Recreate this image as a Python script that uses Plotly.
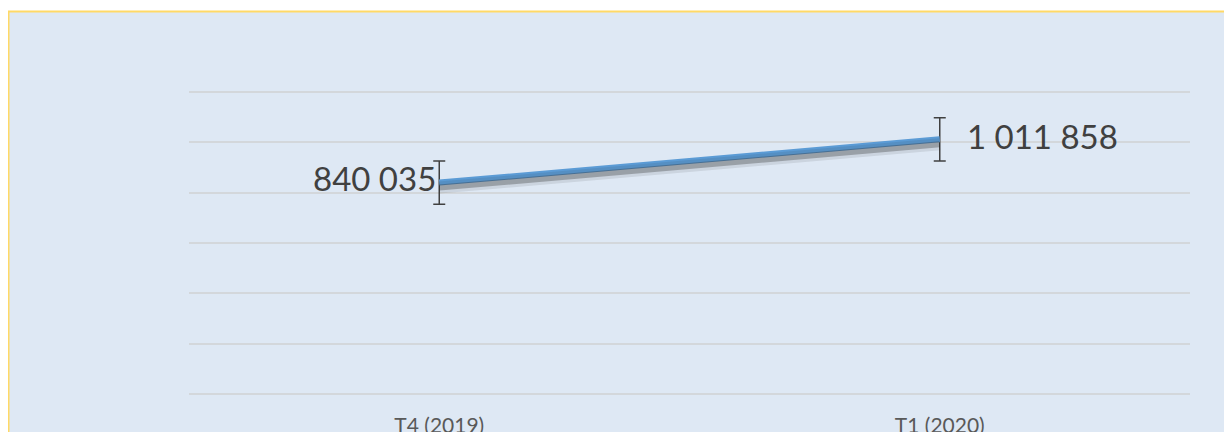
import plotly.graph_objects as go

categories = ["T4 (2019)", "T1 (2020)"]
values = [840035, 1011858]
err_values = [86000, 86000]
y_ticks = [0, 200000, 400000, 600000, 800000, 1000000, 1200000]

def fmt(v):
    return f"{v:,}".replace(",", " ")

labels = [fmt(v) for v in values]

OFF = 8   # default page body margin
PAD = 2   # extra px around plot so edge gridlines are kept
W, H = 1232 - OFF, 432 - OFF
L, R, T, B = 189 - OFF, 42, 92 - OFF - PAD, 38 - PAD
pw, ph = W - L - R, H - T - B

def px_x(vx):
    return (vx - OFF - L) / pw

def px_y(vy):
    return (H - B - (vy - OFF)) / ph

eps = PAD * 1200000 / (ph - 2 * PAD)
ymin, ymax = 0 - eps, 1200000 + eps

fig = go.Figure()

shift = 5 * (ymax - ymin) / ph
# soft shadow of the line (same data, drawn on a slightly shifted overlay axis)
fig.add_trace(go.Scatter(
    x=categories, y=values, mode="lines", yaxis="y2",
    line=dict(color="rgba(40,40,40,0.10)", width=12),
    hoverinfo="skip", showlegend=False,
))
fig.add_trace(go.Scatter(
    x=categories, y=values, mode="lines", yaxis="y2",
    line=dict(color="rgba(40,40,40,0.30)", width=6),
    hoverinfo="skip", showlegend=False,
))

fig.add_trace(go.Scatter(
    x=categories, y=values, mode="lines",
    line=dict(color="#5b9bd5", width=6),
    error_y=dict(type="data", array=err_values, visible=True,
                 color="#404040", thickness=1.5, width=6),
    showlegend=False,
))

fig.add_annotation(x=categories[0], y=values[0], text=labels[0], showarrow=False,
                   xanchor="right", yanchor="middle", xshift=-1, yshift=5,
                   font=dict(family="Lato", size=33, color="#404040"))
fig.add_annotation(x=categories[1], y=values[1], text=labels[1], showarrow=False,
                   xanchor="left", yanchor="middle", xshift=25, yshift=3,
                   font=dict(family="Lato", size=33, color="#404040"))

# chart-area frame
fig.add_shape(type="rect", xref="paper", yref="paper", layer="below",
              x0=px_x(8.5), x1=px_x(1260), y0=px_y(460), y1=px_y(11.5),
              line=dict(color="#ffd966", width=2), fillcolor="#dee8f4")

fig.update_layout(
    width=W, height=H,
    margin=dict(l=L, r=R, t=T, b=B, autoexpand=False),
    paper_bgcolor="white", plot_bgcolor="rgba(0,0,0,0)",
    xaxis=dict(type="category", range=[-0.5, 1.5], showgrid=False, zeroline=False,
               showline=False, ticks="", ticklabelstandoff=15, automargin=False,
               tickfont=dict(family="Lato", size=21, color="#595959")),
    yaxis=dict(range=[ymin, ymax], tickvals=y_ticks, showticklabels=False,
               gridcolor="#d3d7db", gridwidth=2, zeroline=False, showline=False,
               automargin=False),
    yaxis2=dict(range=[ymin + shift, ymax + shift], overlaying="y", visible=False,
                showgrid=False),
)

fig.write_html("out.html")
